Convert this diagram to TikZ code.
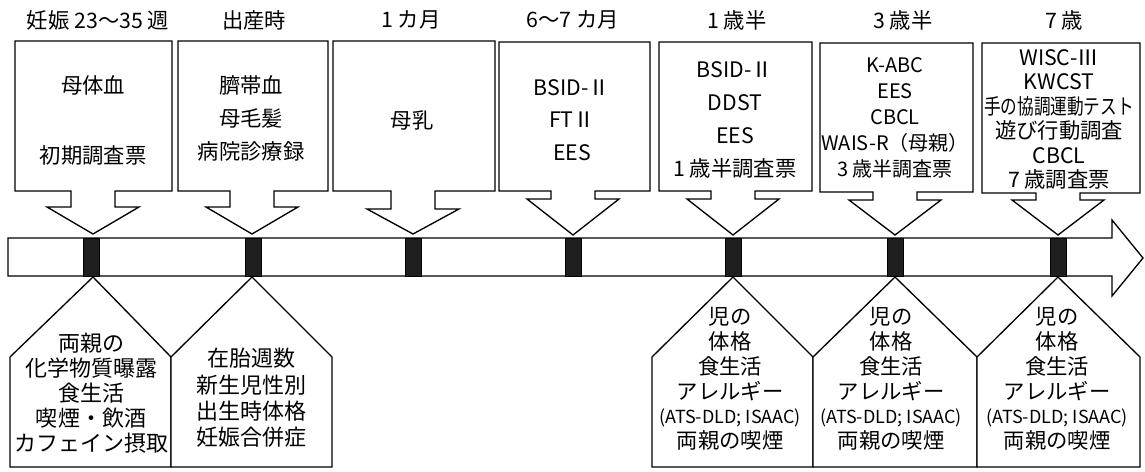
\documentclass[tikz,border=0pt]{standalone}
\usepackage{graphicx}
\usepackage{fontspec}
\setmainfont{Noto Sans CJK JP}
\newcommand\myfs[2]{\fontsize{#1}{#2}\selectfont}
\tikzset{
  outline/.style={draw=black, line width=1pt, line join=miter, fill=white},
  tick/.style={fill=black!88, draw=black, line width=0.6pt},
  lbl/.style={inner sep=0pt, font=\myfs{16}{19}},
  txt/.style={inner sep=0pt, align=center},
}
% L R T B c S Y
\newcommand\topbox[7]{%
  \draw[outline] (#1,#3) -- (#2,#3) -- (#2,#4) -- ({#5+22},#4) -- ({#5+22},#6)
    -- ({#5+46},#6) -- (#5,#7) -- ({#5-46},#6) -- ({#5-22},#6) -- ({#5-22},#4)
    -- (#1,#4) -- cycle;}
% L R c
\newcommand\botbox[3]{%
  \draw[outline] (#1,467) -- (#1,357) -- (#3,277) -- (#2,357) -- (#2,467) -- cycle;}
\begin{document}
\begin{tikzpicture}[x=0.75pt, y=-0.75pt]
\useasboundingbox (0,0) rectangle (1145,471);

% top label row
\node[lbl] (t1) at (98,20) {妊娠 23〜35 週};
\node[lbl] (t2) at (254,20) {出産時};
\node[lbl] (t3) at (411,20) {1 カ月};
\node[lbl] (t4) at (573,20) {6〜7 カ月};
\node[lbl] (t5) at (737,20) {1 歳半};
\node[lbl] (t6) at (903,20) {3 歳半};
\node[lbl] (t7) at (1064,20) {7 歳};

% top callout boxes
\topbox{15}{172}{41}{191}{93}{207}{234}
\topbox{178}{328}{41}{191}{252}{207}{234}
\topbox{333}{495}{41}{191}{413}{209}{234}
\topbox{499}{650}{42}{191}{573}{199}{235}
\topbox{659}{812}{42}{191}{733}{199}{235}
\topbox{820}{973}{43}{192}{895}{200}{235}
\topbox{982}{1140}{43}{193}{1058}{200}{235}

\node[txt, font=\myfs{16}{52.5}] (b1) at (93,120) {母体血\\初期調査票};
\node[txt, font=\myfs{16}{25}] (b2) at (251,118.5) {臍帯血\\母毛髪\\病院診療録};
\node[txt, font=\myfs{16}{25}] (b3) at (412,120) {母乳};
\node[txt, font=\myfs{16}{24.4}] (b4) at (572,120) {BSID-Ⅱ\\FTⅡ\\EES};
\node[txt, font=\myfs{16}{24.75}] (b5) at (735,120) {BSID-Ⅱ\\DDST\\EES\\1 歳半調査票};
\node[txt, font=\myfs{15}{19.5}] (b6) at (895,117.5) {K-ABC\\EES\\CBCL\\WAIS-R（母親）\\3 歳半調査票};
\node[txt, font=\myfs{16}{18.4}] (b7) at (1059,119.5) {WISC-Ⅲ\\KWCST\\\scalebox{0.78}[1]{手の協調運動テスト}\\遊び行動調査\\CBCL\\7 歳調査票};

% timeline arrow
\draw[outline] (8,238) -- (1112,238) -- (1112,220) -- (1143,258) -- (1112,296)
  -- (1112,276) -- (8,276) -- cycle;
\foreach \c in {91,253,413,573,733,895,1058}
  \draw[tick] ({\c-8},238) rectangle ({\c+8},276);

% bottom pentagon boxes
\botbox{10}{171}{93}
\botbox{171}{332}{252}
\botbox{652}{813}{733}
\botbox{813}{977}{895}
\botbox{977}{1140}{1058}

\node[txt, font=\myfs{16.5}{18.75}] (p1) at (91,393) {両親の\\化学物質曝露\\食生活\\喫煙・飲酒\\カフェイン摂取};
\node[txt, font=\myfs{16.5}{19.7}] (p2) at (251,398) {在胎週数\\新生児性別\\出生時体格\\妊娠合併症};
\node[txt, font=\myfs{16}{18.6}] (p3) at (730,379) {児の\\体格\\食生活\\アレルギー\\{\myfs{13.5}{18.6}(ATS-DLD; ISAAC)}\\両親の喫煙};
\node[txt, font=\myfs{16}{18.6}] (p4) at (891,379) {児の\\体格\\食生活\\アレルギー\\{\myfs{13.5}{18.6}(ATS-DLD; ISAAC)}\\両親の喫煙};
\node[txt, font=\myfs{16}{18.6}] (p5) at (1057,379) {児の\\体格\\食生活\\アレルギー\\{\myfs{13.5}{18.6}(ATS-DLD; ISAAC)}\\両親の喫煙};
\end{tikzpicture}
\end{document}
